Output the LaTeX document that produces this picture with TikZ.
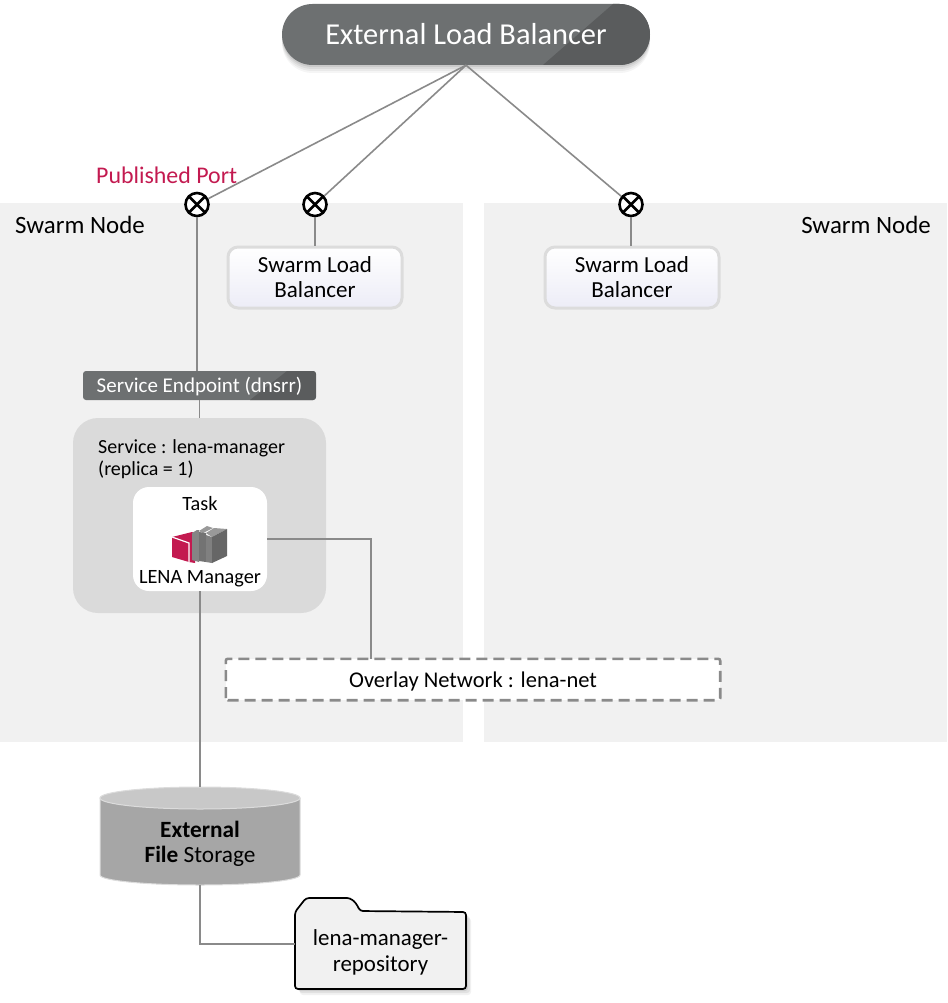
\documentclass[tikz,border=0pt]{standalone}
\usepackage{fontspec}
\setmainfont{Carlito}
\usepackage{xcolor}
\definecolor{ColPanel}{RGB}{241,241,241}
\definecolor{ColService}{RGB}{218,218,218}
\definecolor{ColLine}{RGB}{138,138,138}
\definecolor{ColDark}{RGB}{109,112,113}
\definecolor{ColCorner}{RGB}{90,92,93}
\definecolor{ColPort}{RGB}{195,26,80}
\definecolor{ColRim}{RGB}{220,220,220}
\definecolor{ColDrum}{RGB}{166,166,166}
\definecolor{ColDrumTop}{RGB}{200,200,200}
\usetikzlibrary{shapes,shadows}
\tikzstyle{Panel}=[draw=none,fill=ColPanel,inner sep=0pt,minimum height=539,minimum width=463]
\tikzstyle{Balancer}=[rounded corners=30.5,fill=ColDark,minimum width=368,minimum height=61,inner sep=0pt,
text=white,font=\fontsize{30.4}{32}\selectfont,
drop shadow={shadow xshift=0,shadow yshift=-8,opacity=.04,fill=black},
drop shadow={shadow xshift=0,shadow yshift=-6,opacity=.05,fill=black},
drop shadow={shadow xshift=0,shadow yshift=-4,opacity=.06,fill=black},
drop shadow={shadow xshift=0,shadow yshift=-2,opacity=.08,fill=black}]
\tikzstyle{Port}=[circle,draw=black,line width=2.6,fill=white,minimum size=23,inner sep=0pt,
path picture={\draw[line width=2.6](path picture bounding box.north west)--(path picture bounding box.south east)
(path picture bounding box.north east)--(path picture bounding box.south west);}]
\tikzstyle{SwarmLB}=[rounded corners=10,draw=ColRim,line width=3,top color=white,bottom color=white!90!blue!40!ColPanel,
minimum width=174,minimum height=61,inner sep=0pt,align=center,font=\fontsize{23}{25}\selectfont]
\tikzstyle{Folder}=[draw=black,line width=1.7,fill=ColPanel,rounded corners=3,
drop shadow={shadow xshift=5,shadow yshift=-6,opacity=.05,fill=black},
drop shadow={shadow xshift=4,shadow yshift=-4,opacity=.07,fill=black},
drop shadow={shadow xshift=2,shadow yshift=-2,opacity=.09,fill=black}]
\tikzstyle{Edge}=[draw=ColLine,line width=1.9]
\tikzstyle{EdgeThin}=[draw=ColLine,line width=1.6]
\tikzstyle{Label}=[inner sep=0pt,font=\fontsize{24.9}{27}\selectfont]
\tikzstyle{Small}=[inner sep=0pt,align=left,font=\fontsize{20.3}{22}\selectfont]
\begin{document}
\begin{tikzpicture}[x=1pt,y=1pt]
    \useasboundingbox(0,0)rectangle(947,-1003);
    \node[Panel](left)at(231.5,-472.5){};
    \node[Panel](right)at(715.5,-472.5){};
    \node[Label,anchor=west](leftname)at(15,-225){Swarm Node};
    \node[Label,anchor=east](rightname)at(931,-225){Swarm Node};
    \node[Balancer,path picture={\fill[ColCorner,sharp corners]([xshift=-37]path picture bounding box.north east)--([xshift=-107]path picture bounding box.south east)
        --(path picture bounding box.south east)--(path picture bounding box.north east)--cycle;}](elb)at(466,-34.5){External Load Balancer};
    \node[Port](port1)at(197,-204.5){};
    \node[Port](port2)at(315,-204.5){};
    \node[Port](port3)at(631,-204.5){};
    \node[Label,text=ColPort,anchor=west,font=\fontsize{23.9}{26}\selectfont](published)at(96,-175){Published Port};
    \node[SwarmLB](lb1)at(315,-277.5){Swarm Load\\Balancer};
    \node[SwarmLB](lb2)at(632,-277.5){Swarm Load\\Balancer};
    \node[rounded corners=3,fill=ColDark,text=white,minimum width=233,minimum height=29,inner sep=0pt,
        font=\fontsize{21}{22}\selectfont,text height=19,text depth=5,
        path picture={\fill[ColCorner,sharp corners]([xshift=-29]path picture bounding box.north east)--([xshift=-66]path picture bounding box.south east)
        --(path picture bounding box.south east)--(path picture bounding box.north east)--cycle;}](endpoint)at(199.5,-385.5){Service Endpoint (dnsrr)};
    \node[rounded corners=25,fill=ColService,minimum width=253,minimum height=195,inner sep=0pt](service)at(199.5,-515.5){};
    \node[Small,anchor=north west,font=\fontsize{20}{22}\selectfont](servicename)at(98,-439){Service : lena-manager\\(replica = 1)};
    \node[rounded corners=16,fill=white,minimum width=134,minimum height=104,inner sep=0pt](task)at(200,-539){};
    \node[Small](taskname)at(200,-503.5){Task};
    \node[Small](manager)at(200,-579){LENA Manager};
    % icon
    \fill[ColPort](172,-537)--(192,-532)--(195,-533)--(195,-563)--(189,-562)--(172,-557)--cycle;
    \draw[white,line width=1.2](172,-537)--(189,-543)--(189,-562);
    \fill[black!48](192,-533)--(197,-530)--(199,-530)--(199,-562)--(192,-560)--cycle;
    \fill[black!40](199,-531)--(207,-526)--(213,-528)--(203,-533)--cycle;
    \fill[black!55](199,-532)--(206,-533)--(206,-562)--(199,-561)--cycle;
    \fill[black!40](206,-533)--(214,-528)--(227,-529)--(212,-537)--cycle;
    \fill[black!50](206,-535)--(212,-537)--(212,-563)--(206,-562)--cycle;
    \fill[black!60](212,-537)--(227,-529)--(227,-556)--(212,-563)--cycle;
    \node[fill=white,minimum width=494,minimum height=41,inner sep=0pt,font=\fontsize{22.5}{25}\selectfont,text height=20,text depth=5](overlay)at(473,-679.5){Overlay Network : lena-net};
    \draw[draw=ColLine,line width=2.6,dash pattern=on 11 off 6,rounded corners=2](overlay.south west)rectangle(overlay.north east);
    % storage
    \node[inner sep=0pt,minimum width=200,minimum height=98](storage)at(200,-836){};
    \draw[draw=ColRim,line width=1,fill=ColDrum](100,-798)--(100,-875)arc[start angle=180,end angle=360,x radius=100,y radius=10]--(300,-798)--cycle;
    \draw[draw=ColRim,line width=1,fill=ColDrumTop](200,-798)ellipse[x radius=100,y radius=11];
    \node[inner sep=0pt,align=center,font=\fontsize{23.3}{25}\selectfont](storagename)at(200,-844){\textbf{External}\\\textbf{File} Storage};
    % folder
    \draw[Folder](295,-989)--(295,-912)--(306,-898)--(350,-898)--(356,-903)--(360,-911)--(466,-912)--(466,-989)--cycle;
    \node[inner sep=0pt,align=center,font=\fontsize{22.9}{26}\selectfont](repo)at(380.5,-952){lena-manager-\\repository};
    \coordinate(repoin)at(295,-944);
    \coordinate(bend)at(371,-539);
    \draw[EdgeThin](elb.south)--(port1);
    \draw[EdgeThin](elb.south)--(port2);
    \draw[EdgeThin](elb.south)--(port3);
    \draw[Edge](port1)--(port1|-endpoint.north);
    \draw[Edge](port2)--(port2|-lb1.north);
    \draw[Edge](port3)--(port3|-lb2.north);
    \draw[Edge](endpoint.south)--(service.north);
    \draw[Edge](task.east)--(bend)--(bend|-overlay.north);
    \draw[Edge](task.south)--(storage.north);
    \draw[Edge](storage.south)|-(repoin);
\end{tikzpicture}
\end{document}
